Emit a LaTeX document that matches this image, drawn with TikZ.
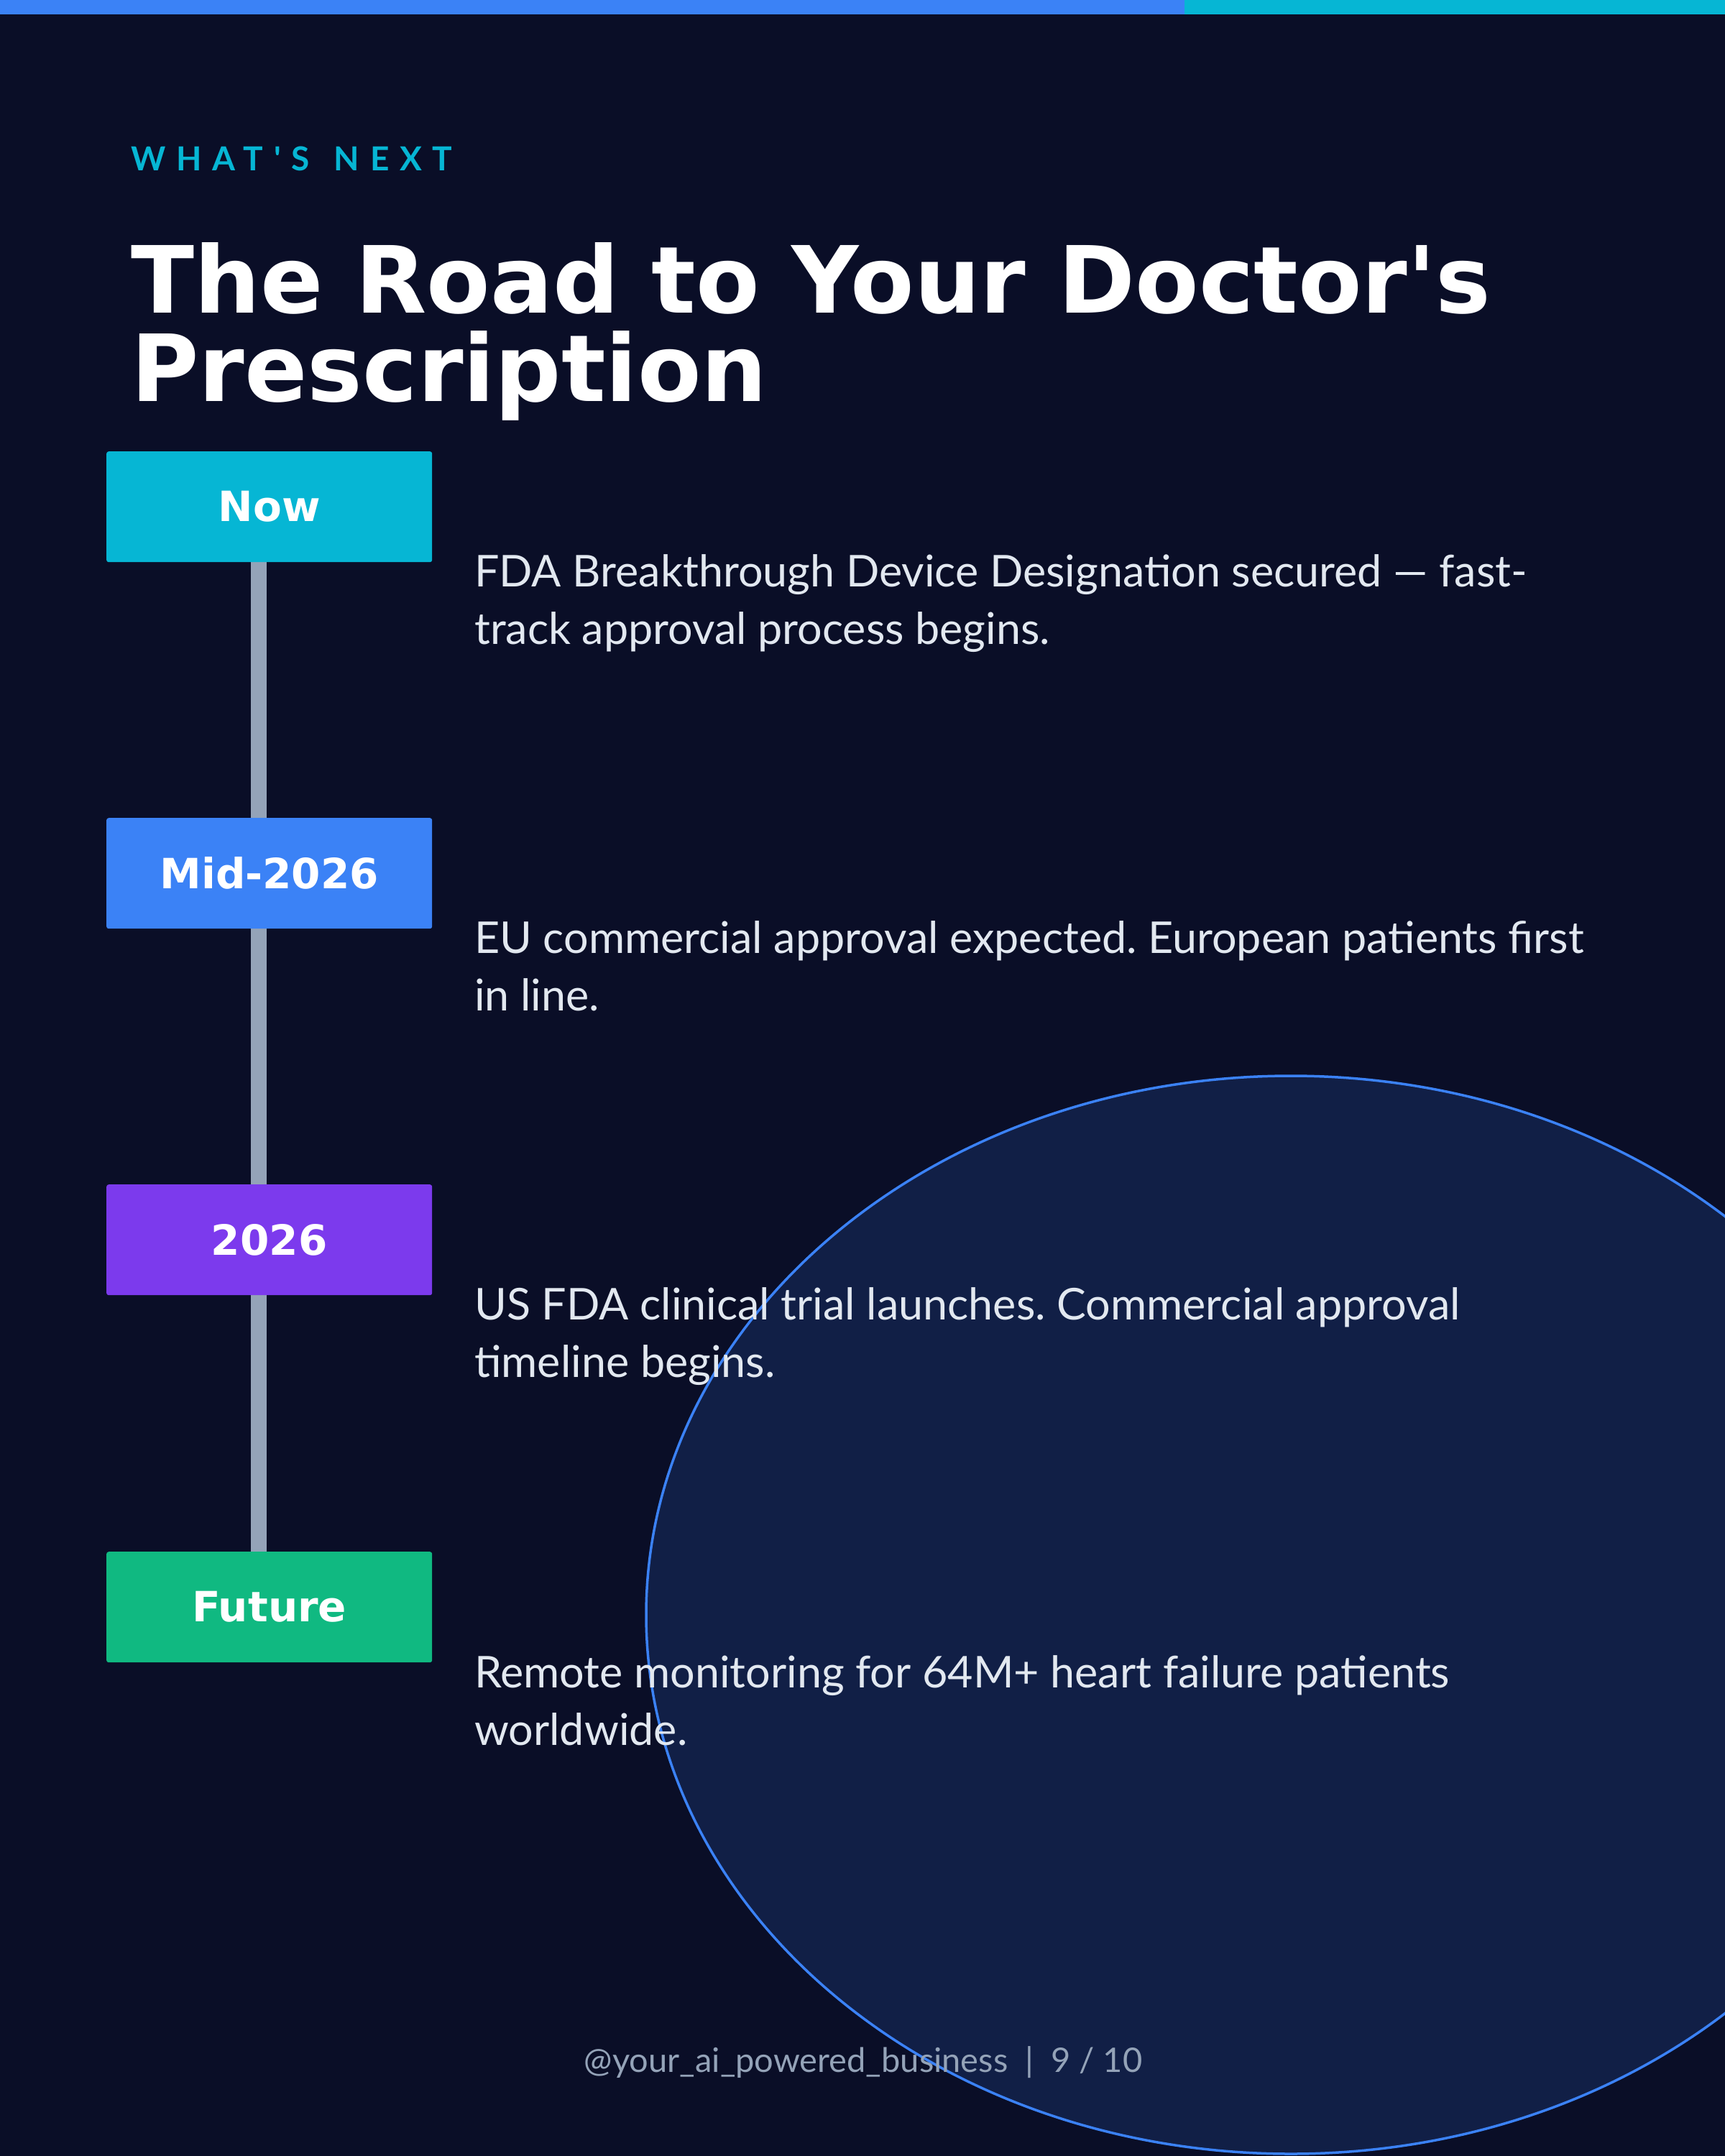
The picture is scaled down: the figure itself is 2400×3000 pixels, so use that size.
\documentclass[tikz,border=0pt]{standalone}
\usepackage{fontspec}
\setmainfont{Lato}
\newfontfamily\titlefont{DejaVu Sans}
\newfontfamily\kickerfont[LetterSpace=32]{Lato}
\frenchspacing
\definecolor{bgc}{HTML}{0A0E27}
\definecolor{blueA}{HTML}{3B82F6}
\definecolor{cyanA}{HTML}{06B6D4}
\definecolor{purpleA}{HTML}{7C3AED}
\definecolor{greenA}{HTML}{10B981}
\definecolor{trackc}{HTML}{94A3B8}
\definecolor{textc}{HTML}{E2E8F0}
\definecolor{ellfill}{HTML}{111F46}
\pgfdeclarelayer{bg}
\pgfdeclarelayer{mid}
\pgfsetlayers{bg,mid,main}
\tikzset{
  datebox/.style={anchor=north west, inner sep=0pt, minimum width=453pt, minimum height=154pt,
    rounded corners=3pt, text=white, font=\titlefont\bfseries\fontsize{58}{58}\selectfont},
  desc/.style={anchor=base west, inner sep=0pt, align=left, text=textc,
    font=\fontsize{61}{80}\selectfont},
  trackline/.style={draw=trackc, line width=22pt},
}
\begin{document}
\begin{tikzpicture}[x=1pt,y=-1pt]
\useasboundingbox (0,0) rectangle (2400,3000);
\begin{pgfonlayer}{bg}
  \fill[bgc] (0,0) rectangle (2400,3000);
  \begin{scope}
    \clip (0,0) rectangle (2400,3000);
    \draw[blueA, fill=ellfill, line width=3.5pt] (1796,2247) ellipse [x radius=897pt, y radius=750pt];
  \end{scope}
  \fill[blueA] (0,0) rectangle (1648,20);
  \fill[cyanA] (1648,0) rectangle (2400,20);
\end{pgfonlayer}

\node[anchor=base west, inner sep=0pt, text=cyanA, font=\kickerfont\bfseries\fontsize{46}{46}\selectfont] (kicker) at (182,237) {WHAT'S\hspace{8pt} NEXT};
\node[anchor=base west, inner sep=0pt, align=left, text=white, font=\titlefont\bfseries\fontsize{129}{123}\selectfont] (title) at (182,558) {The Road to Your Doctor's\\Prescription};

\node[datebox, fill=cyanA] (now) at (148,628) {Now};
\node[datebox, fill=blueA] (mid) at (148,1138) {Mid-2026};
\node[datebox, fill=purpleA] (y26) at (148,1648) {2026};
\node[datebox, fill=greenA] (future) at (148,2159) {Future};

\begin{pgfonlayer}{mid}
  \draw[trackline] ([xshift=-14.5pt]now.center) -- ([xshift=-14.5pt]future.center);
\end{pgfonlayer}

\node[desc] (d1) at (660,896) {FDA Breakthrough Device Designation secured — fast-\\track approval process begins.};
\node[desc] (d2) at (660,1406) {EU commercial approval expected. European patients first\\in line.};
\node[desc] (d3) at (660,1916) {US FDA clinical trial launches. Commercial approval\\timeline begins.};
\node[desc] (d4) at (660,2428) {Remote monitoring for 64M+ heart failure patients\\worldwide.};

\node[anchor=base, inner sep=0pt, text=trackc, font=\fontsize{47}{47}\selectfont] (foot) at (1201,2883) {@your\_ai\_powered\_business\hspace{24pt}|\hspace{24pt}9 / 10};
\end{tikzpicture}
\end{document}
